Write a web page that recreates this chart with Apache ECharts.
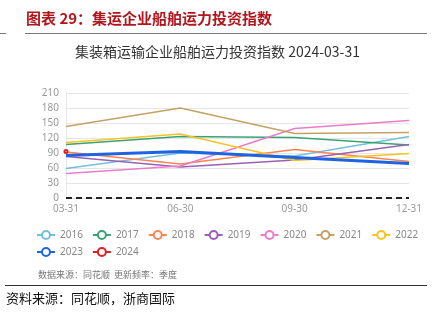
<!DOCTYPE html>
<html><head><meta charset="utf-8">
<script src="https://cdn.jsdelivr.net/npm/echarts@6/dist/echarts.min.js"></script>
<style>html,body{margin:0;padding:0;background:#fff;}#c{width:435px;height:335px;}</style>
</head><body><div id="c"></div>
<script>
var categories = ['03-31','06-30','09-30','12-31'];
var yTicks = [0,30,60,90,120,150,180,210];
var seriesNames = ['2016','2017','2018','2019','2020','2021','2022','2023','2024'];
var v2016 = [59, 90, 84, 123];
var v2017 = [107, 123, 121, 106];
var v2018 = [92, 68, 97, 73];
var v2019 = [83, 62, 76, 107];
var v2020 = [49, 64, 139, 155];
var v2021 = [143, 180, 129, 131];
var v2022 = [111, 128, 75, 89];
var v2023 = [85, 93, 81, 69];
var v2024 = [93, null, null, null];
var zeroLine = [0, 0, 0, 0];
var values = [v2016,v2017,v2018,v2019,v2020,v2021,v2022,v2023,v2024];
var colors = ['#73c0de','#3ba272','#fc8452','#9a60b4','#ea7ccc','#c4a266','#f5c324','#1f63e0','#e01f24'];

var chart = echarts.init(document.getElementById('c'));
var series = seriesNames.map(function(n,i){
  return {
    name:n, type:'line', data:values[i], symbol:'emptyCircle', symbolSize:n==='2024'?3:6,
    showSymbol: n==='2024', connectNulls:false,
    lineStyle:{width: n==='2023'?3:1.5, color:colors[i]},
    itemStyle:{color:colors[i]},
    z: n==='2023'?3:2
  };
});
series.push({name:'zero', type:'line', data:zeroLine, showSymbol:false, symbol:'none',
  lineStyle:{color:'#222', width:2, type:[6,4]}, z:5, silent:true});

var legendCommon = {itemWidth:18, itemHeight:10, itemGap:9,
  textStyle:{color:'#888', fontSize:10, fontFamily:'Noto Sans'}};

chart.setOption({
  animation:false,
  graphic:[
    {type:'text', left:26, top:11, style:{text:'图表 29：集运企业船舶运力投资指数', fill:'#b2161d', font:'bold 15px "Noto Sans CJK SC"'}},
    {type:'rect', shape:{x:25,y:33,width:402,height:1}, style:{fill:'#777'}},
    {type:'rect', shape:{x:0,y:33,width:6,height:1}, style:{fill:'#777'}},
    {type:'text', left:38, top:270, style:{text:'数据来源：同花顺  更新频率：季度', fill:'#777', font:'9px "Noto Sans CJK SC"'}},
    {type:'rect', shape:{x:5,y:285,width:422,height:1}, style:{fill:'#333'}},
    {type:'text', left:6, top:292, style:{text:'资料来源：同花顺，浙商国际', fill:'#111', font:'13px "Noto Sans CJK SC"'}}
  ],
  title:{text:'集装箱运输企业船舶运力投资指数 2024-03-31', left:'center', top:40,
    textStyle:{fontSize:14, fontWeight:'normal', color:'#333', fontFamily:'Noto Sans CJK SC'}},
  color:colors,
  legend:[
    Object.assign({data:seriesNames.slice(0,7), left:36, top:230, padding:[0,0,0,0]}, legendCommon),
    Object.assign({data:seriesNames.slice(7), left:36, top:247, padding:[0,0,0,0]}, legendCommon)
  ],
  grid:{left:66, right:26, top:93, bottom:137},
  xAxis:{type:'category', data:categories, boundaryGap:false,
    axisLine:{show:false}, axisTick:{show:false},
    axisLabel:{color:'#999', fontSize:10, fontFamily:'Noto Sans', margin:6},
    splitLine:{show:false}},
  yAxis:{type:'value', min:0, max:210, interval:30,
    axisLine:{show:true, lineStyle:{color:'#e6e6e6'}}, axisTick:{show:false},
    axisLabel:{color:'#999', fontSize:10, fontFamily:'Noto Sans', margin:7},
    splitLine:{lineStyle:{color:'#e6e6e6'}}},
  series:series
});
</script></body></html>
